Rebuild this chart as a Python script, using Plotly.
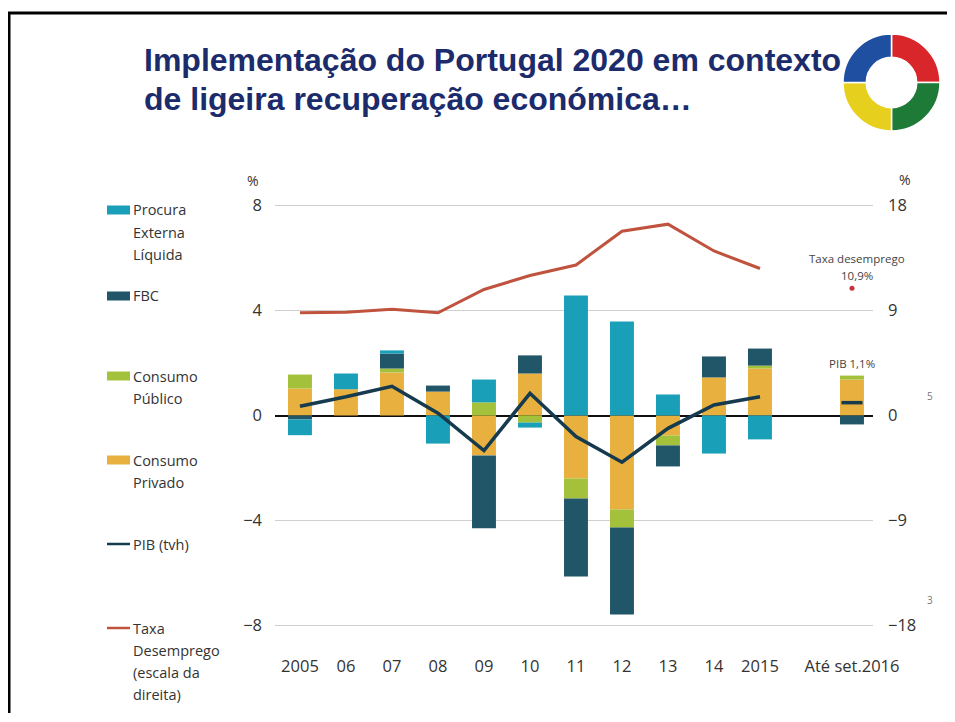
import plotly.graph_objects as go

# ---------------- data ----------------
categories = ["2005", "06", "07", "08", "09", "10", "11", "12", "13", "14", "2015", "Até set.2016"]
procura_externa = [-0.60, 0.60, 0.12, -1.07, 0.87, -0.19, 4.57, 3.58, 0.80, -1.45, -0.91, 0.0]
fbc = [-0.15, 0.0, 0.57, 0.23, -2.78, 0.69, -2.97, -3.31, -0.80, 0.80, 0.65, -0.34]
consumo_publico = [0.53, 0.0, 0.15, 0.0, 0.50, -0.27, -0.76, -0.69, -0.38, 0.0, 0.11, 0.15]
consumo_privado = [1.03, 1.00, 1.64, 0.91, -1.52, 1.60, -2.40, -3.58, -0.76, 1.45, 1.79, 1.37]
pib_anos = categories[:11]
pib = [0.8, 1.6, 2.5, 0.2, -3.0, 1.9, -1.8, -4.0, -1.1, 0.9, 1.6]
pib_2016 = 1.1
desemprego = [8.8, 8.85, 9.1, 8.8, 10.8, 12.0, 12.9, 15.8, 16.4, 14.1, 12.6]
desemprego_2016 = 10.9
left_ticks = [-8, -4, 0, 4, 8]
right_ticks = [-18, -9, 0, 9, 18]

# ---------------- style ----------------
# The page body has an 8px margin, so the figure is sized to fit the window
# and every position below is given in window pixels, shifted by that margin.
OFF = 8
W, H = 955 - 2 * OFF, 722 - 2 * OFF - 1
C_PEL = "#1a9fb9"
C_FBC = "#215568"
C_CPUB = "#a3c13b"
C_CPRIV = "#e8b13f"
C_PIB = "#163a4e"
C_TAXA = "#c0533d"
TXT = "#333333"
FONT = "Open Sans"


def px(x):
    return (x - OFF) / W


def py(y):
    return 1 - (y - OFF) / H


axis_cats = categories[:11] + [" "] + categories[11:]

fig = go.Figure()
for name, vals, col in [("Consumo Privado", consumo_privado, C_CPRIV),
                        ("Consumo Público", consumo_publico, C_CPUB),
                        ("FBC", fbc, C_FBC),
                        ("Procura Externa Líquida", procura_externa, C_PEL)]:
    fig.add_trace(go.Bar(x=categories, y=vals, name=name, marker_color=col,
                         marker_line_width=0, width=0.52))

fig.add_trace(go.Scatter(x=pib_anos, y=pib, yaxis="y2", mode="lines",
                         line=dict(color=C_PIB, width=3.5), name="PIB (tvh)"))
fig.add_trace(go.Scatter(x=[categories[-1]], y=[pib_2016], yaxis="y2", mode="markers",
                         marker=dict(symbol="line-ew", size=15,
                                     line=dict(color=C_PIB, width=3.5)), name="PIB 2016"))
fig.add_trace(go.Scatter(x=pib_anos, y=desemprego, yaxis="y2", mode="lines",
                         line=dict(color=C_TAXA, width=3), name="Taxa Desemprego"))
fig.add_trace(go.Scatter(x=[categories[-1]], y=[desemprego_2016], yaxis="y2", mode="markers",
                         marker=dict(symbol="circle", size=5, color="#c8323a"), name="Taxa 2016"))

fig.update_layout(
    width=W, height=H,
    margin=dict(l=0, r=0, t=0, b=0, autoexpand=False),
    paper_bgcolor="white", plot_bgcolor="white",
    showlegend=False, barmode="relative",
    font=dict(family=FONT, color=TXT),
    xaxis=dict(domain=[px(275), px(873)], type="category", categoryorder="array",
               categoryarray=axis_cats, range=[-0.543, 12.457],
               tickmode="array", tickvals=categories, ticktext=categories,
               showgrid=False, showline=False, zeroline=False, ticks="",
               tickfont=dict(family=FONT, size=16.5, color=TXT), ticklabelstandoff=18),
    yaxis=dict(domain=[py(636), py(195)], range=[-8.4, 8.4], tickvals=left_ticks,
               showgrid=True, gridcolor="#cfcfcf", gridwidth=1,
               zeroline=True, zerolinecolor="#111111", zerolinewidth=1.6,
               showline=False, ticks="", ticklabelstandoff=12,
               tickfont=dict(family=FONT, size=16.5, color=TXT)),
    yaxis2=dict(overlaying="y", side="right", range=[-18.9, 18.9], tickvals=right_ticks,
                showgrid=False, zeroline=False, showline=False, ticks="",
                ticklabelstandoff=14, tickfont=dict(family=FONT, size=16.5, color=TXT)),
)


def note(x, y, text, size, color=TXT, xanchor="center", family=FONT, weight="normal"):
    return dict(x=px(x), y=py(y), xref="paper", yref="paper", xanchor=xanchor,
                yanchor="middle", text=text, showarrow=False,
                font=dict(family=family, size=size, color=color, weight=weight))


ann = []
# title
ann.append(note(142, 60, "Implementação do Portugal 2020 em contexto", 32, "#1c2b6b",
                "left", "Liberation Sans, Arial", "bold"))
ann.append(note(142, 99, "de ligeira recuperação económica…", 32, "#1c2b6b",
                "left", "Liberation Sans, Arial", "bold"))
# % units
ann.append(note(253, 180, "%", 14))
ann.append(note(905, 179, "%", 14))
# stray fragments at right
ann.append(note(930, 396, "5", 10, "#777777"))
ann.append(note(930, 600, "3", 10, "#777777"))
# 2016 notes
ann.append(dict(x=categories[-1], y=desemprego_2016, yref="y2", yshift=30, xshift=5,
                xanchor="center", yanchor="middle",
                text="Taxa desemprego", showarrow=False, font=dict(size=11.5, color="#444444")))
ann.append(dict(x=categories[-1], y=desemprego_2016, yref="y2", yshift=13, xshift=5,
                xanchor="center", yanchor="middle",
                text="10,9%", showarrow=False, font=dict(size=11.5, color="#444444")))
ann.append(dict(x=categories[-1], y=consumo_privado[-1] + consumo_publico[-1], yref="y",
                yshift=12, xanchor="center", yanchor="middle",
                text="PIB 1,1%", showarrow=False, font=dict(size=11.5, color="#444444")))

# legend (manual)
shapes = []
legend_items = [
    ("rect", C_PEL, ["Procura", "Externa", "Líquida"], 210),
    ("rect", C_FBC, ["FBC"], 296),
    ("rect", C_CPUB, ["Consumo", "Público"], 376),
    ("rect", C_CPRIV, ["Consumo", "Privado"], 460),
    ("line", C_PIB, ["PIB (tvh)"], 544),
    ("line", C_TAXA, ["Taxa", "Desemprego", "(escala da", "direita)"], 628),
]
for kind, col, lines, y0 in legend_items:
    if kind == "rect":
        shapes.append(dict(type="rect", xref="paper", yref="paper", x0=px(107), x1=px(130),
                           y0=py(y0 - 4.5), y1=py(y0 + 4.5), fillcolor=col, line=dict(width=0)))
    else:
        shapes.append(dict(type="line", xref="paper", yref="paper", x0=px(107), x1=px(130),
                           y0=py(y0), y1=py(y0), line=dict(color=col, width=2.5)))
    for i, t in enumerate(lines):
        ann.append(note(131, y0 + 22 * i, t, 14.5, xanchor="left"))

# slide frame
shapes.append(dict(type="rect", xref="paper", yref="paper", x0=px(9), x1=1.05, y0=-0.05, y1=py(13),
                   line=dict(color="black", width=3), fillcolor="rgba(0,0,0,0)"))

fig.update_layout(annotations=ann, shapes=shapes)

# logo ring
fig.add_trace(go.Pie(values=[1, 1, 1, 1], labels=["r", "g", "y", "b"], sort=False,
                     direction="clockwise", rotation=0, hole=0.52,
                     marker=dict(colors=["#d8262b", "#1d7a37", "#e6cf1d", "#1f4fa0"],
                                 line=dict(color="white", width=1.5)),
                     textinfo="none", hoverinfo="skip", showlegend=False,
                     domain=dict(x=[px(843), px(940)], y=[py(131), py(34)])))

fig.write_html("out.html")
